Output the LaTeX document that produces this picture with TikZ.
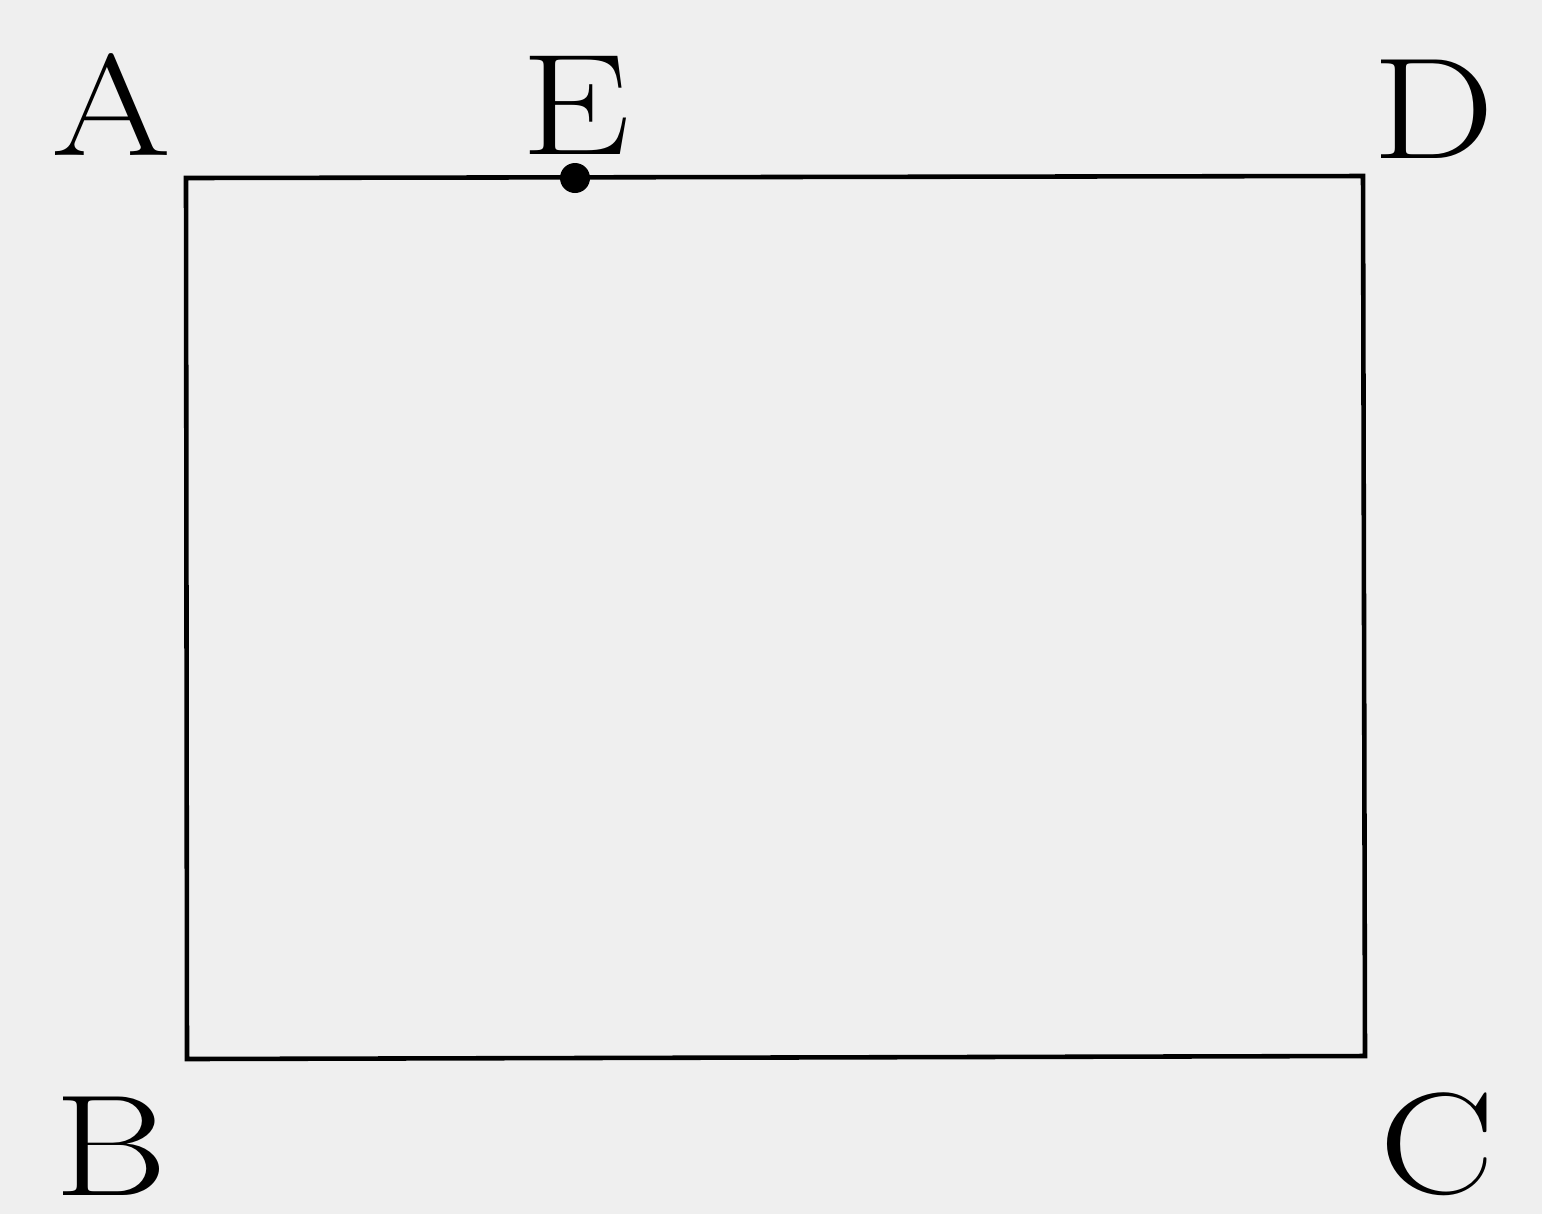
\documentclass[tikz,border=0pt]{standalone}
\begin{document}
\begin{tikzpicture}[x=0.01cm,y=-0.01cm,
  lbl/.style={anchor=base,inner sep=0pt,xscale=1.2,font=\fontsize{41}{41}\selectfont},
  edge/.style={line width=1.3pt,line join=miter}]
\definecolor{bg}{HTML}{EFEFEF}
\fill[bg] (0,0) rectangle (1542,1214);
\useasboundingbox (0,0) rectangle (1542,1214);
\coordinate (A) at (186,178);
\coordinate (D) at (1363,176);
\coordinate (C) at (1365,1056);
\coordinate (B) at (187,1059);
\coordinate (E) at (575,178);
\draw[edge] (A) -- (D) -- (C) -- (B) -- cycle;
\fill (E) circle (15);
\node[lbl] (lA) at (111,155) {A};
\node[lbl] (lE) at (576,154) {E};
\node[lbl] (lD) at (1434,158) {D};
\node[lbl] (lB) at (111,1195) {B};
\node[lbl] (lC) at (1437,1193) {C};
\end{tikzpicture}
\end{document}
